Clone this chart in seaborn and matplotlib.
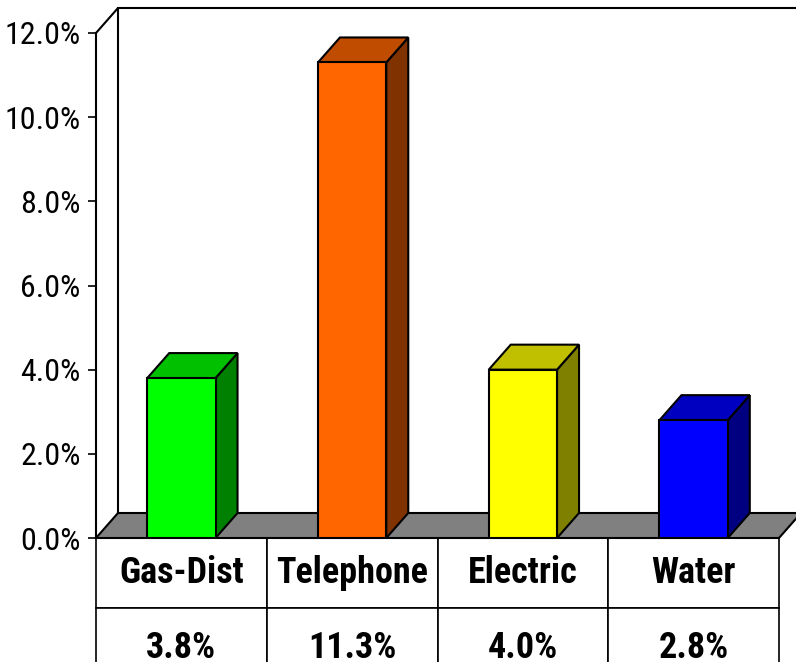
import matplotlib
matplotlib.use("Agg")
import matplotlib.pyplot as plt
from matplotlib import font_manager as fm
from matplotlib.patches import Polygon
from matplotlib.ticker import FuncFormatter
import seaborn as sns
import pandas as pd

categories = ["Gas-Dist", "Telephone", "Electric", "Water"]
values = [3.8, 11.3, 4.0, 2.8]
front_colors = ["#00FF00", "#FF6600", "#FFFF00", "#0000FF"]
top_colors = ["#00C000", "#C04C00", "#C0C000", "#0000C0"]
side_colors = ["#008000", "#803300", "#808000", "#000080"]
yticks = [0, 2, 4, 6, 8, 10, 12]

sns.set_theme(style="white")


def find_condensed(bold):
    cands = []
    for f in fm.fontManager.ttflist:
        st = str(f.stretch).lower()
        nm = f.name
        cond = ("condensed" in st or "narrow" in nm.lower() or "condensed" in nm.lower()
                or "narrow" in f.fname.lower() or "condensed" in f.fname.lower())
        if not cond:
            continue
        w = f.weight if isinstance(f.weight, int) else {"bold": 700, "normal": 400}.get(str(f.weight), 400)
        if "italic" in str(f.style).lower() or "oblique" in str(f.style).lower():
            continue
        fn = f.fname.lower()
        if "italic" in fn or "oblique" in fn:
            continue
        pri = 5
        for i, key in enumerate(["liberation sans narrow", "roboto condensed", "open sans condensed",
                                 "noto sans", "dejavu sans"]):
            if nm.lower().startswith(key):
                pri = i
                break
        cands.append((pri, abs(w - (700 if bold else 400)), f.fname, nm))
    if not cands:
        return None
    cands.sort()
    return cands[0]


reg = find_condensed(False)
bld = find_condensed(True)
plt.rcParams["font.family"] = ["Liberation Sans", "DejaVu Sans"]
plt.rcParams["text.color"] = "black"
fp_reg = fm.FontProperties(fname=reg[2]) if reg else fm.FontProperties(family="Liberation Sans")
fp_bld = fm.FontProperties(fname=bld[2]) if bld else fm.FontProperties(family="Liberation Sans", weight="bold")

W, H = 796, 662
fig = plt.figure(figsize=(W / 100, H / 100), dpi=100)
ax = fig.add_axes([96 / W, (H - 538) / H, (779 - 96) / W, (538 - 33) / H])
ax.set_facecolor("none")

df = pd.DataFrame({"cat": categories, "val": values})
sns.barplot(data=df, x="cat", y="val", hue="cat", palette=front_colors,
            order=categories, hue_order=categories, width=0.4, legend=False,
            edgecolor="black", linewidth=1.5, saturation=1, ax=ax, zorder=3)

ax.set_xlim(-0.5, 3.5)
ax.set_ylim(0, 12)
DX = 22 / (779 - 96) * 4.0
DY = 25 / (538 - 33) * 12.0

floor = Polygon([(-0.5, 0), (3.5, 0), (3.5 + DX, DY), (-0.5 + DX, DY)],
                closed=True, facecolor="#808080", edgecolor="black",
                linewidth=1.5, zorder=1, clip_on=False)
ax.add_patch(floor)
ax.plot([-0.5 + DX, -0.5 + DX], [DY, 12 + DY], color="black", lw=1.5, clip_on=False, zorder=0.5)
ax.plot([-0.5 + DX, 3.5 + DX], [12 + DY, 12 + DY], color="black", lw=1.5, clip_on=False, zorder=0.5)
ax.plot([-0.5, -0.5 + DX], [12, 12 + DY], color="black", lw=1.5, clip_on=False, zorder=0.5)

for p, tc, sc in zip(ax.patches[:len(values)], top_colors, side_colors):
    x0 = p.get_x()
    x1 = x0 + p.get_width()
    h = p.get_height()
    side = Polygon([(x1, 0), (x1 + DX, DY), (x1 + DX, h + DY), (x1, h)], closed=True,
                   facecolor=sc, edgecolor="black", linewidth=1.5, zorder=2.5, clip_on=False)
    top = Polygon([(x0, h), (x0 + DX, h + DY), (x1 + DX, h + DY), (x1, h)], closed=True,
                  facecolor=tc, edgecolor="black", linewidth=1.5, zorder=2.5, clip_on=False)
    ax.add_patch(side)
    ax.add_patch(top)

for s in ["top", "right", "bottom"]:
    ax.spines[s].set_visible(False)
ax.spines["left"].set_color("black")
ax.spines["left"].set_linewidth(1.5)
ax.spines["left"].set_zorder(4)
ax.set_yticks(yticks)
ax.yaxis.set_major_formatter(FuncFormatter(lambda v, pos: f"{v:.1f}%"))
ax.tick_params(axis="y", left=True, length=6, width=1.2, color="black", pad=5,
               labelcolor="black")
for lab in ax.get_yticklabels():
    lab.set_fontproperties(fp_reg)
    lab.set_fontsize(23)
    lab.set_color("black")
ax.set_xticks([])
ax.set_xlabel("")
ax.set_ylabel("")
ax.grid(False)

h1_px, h2_px = 70, 80
ax_h_px = 538 - 33
tot = (h1_px + h2_px) / ax_h_px
tbl = ax.table(cellText=[categories, [f"{v:.1f}%" for v in values]],
               cellLoc="center", bbox=[0, -tot, 1, tot])
tbl.auto_set_font_size(False)
for (r, c), cell in tbl.get_celld().items():
    cell.set_height(h1_px if r == 0 else h2_px)
    cell.set_edgecolor("black")
    cell.set_linewidth(1.2)
    cell.set_facecolor("white")
    t = cell.get_text()
    t.set_fontproperties(fp_bld)
    if bld is None or bld[1] > 100:
        t.set_fontweight("bold")
    t.set_fontsize(26)
    t.set_color("black")
tbl.set_clip_on(False)

fig.savefig("out.png", dpi=100)
